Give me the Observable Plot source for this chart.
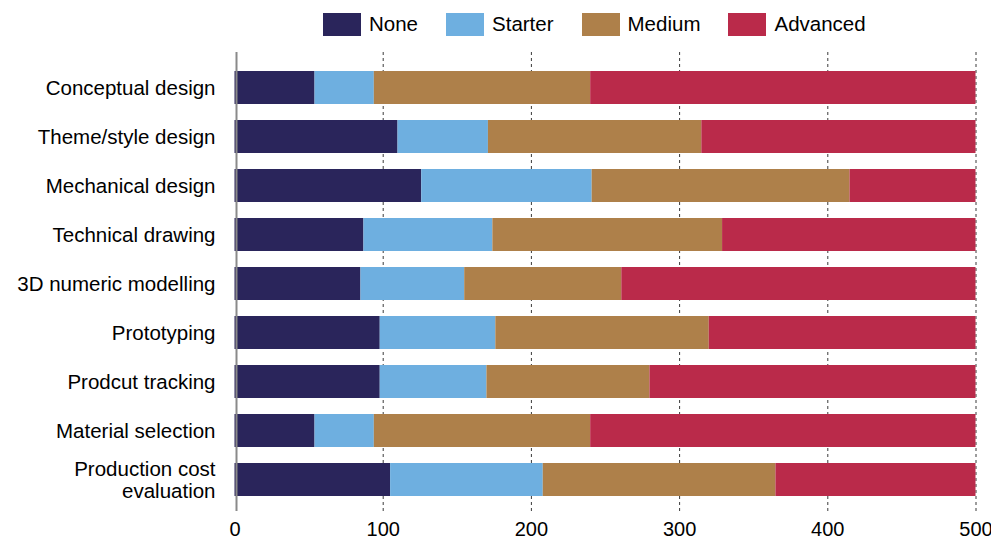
<!DOCTYPE html>
<html>
<head>
<meta charset="utf-8">
<script src="https://cdn.jsdelivr.net/npm/d3@7"></script>
<script src="https://cdn.jsdelivr.net/npm/@observablehq/plot@0.6"></script>
<style>
  html, body { margin: 0; padding: 0; background: #ffffff; }
  body { width: 991px; height: 539px; overflow: hidden; font-family: Arial, "Liberation Sans", sans-serif; }
  #legend { height: 48px; display: flex; align-items: center; padding-left: 323px; box-sizing: border-box; }
  .item { display: flex; align-items: center; margin-right: 28px; font-size: 20.5px; color: #000; }
  .swatch { width: 38px; height: 23px; margin-right: 8px; }
  #chart svg { display: block; overflow: visible; }
</style>
</head>
<body>
<div id="legend"></div>
<div id="chart"></div>
<script>
// Skill level reported for each design task (respondents, total 500 per task)
const tasks = [
  "Conceptual design",
  "Theme/style design",
  "Mechanical design",
  "Technical drawing",
  "3D numeric modelling",
  "Prototyping",
  "Prodcut tracking",
  "Material selection",
  "Production cost evaluation"
];
const levels = ["None", "Starter", "Medium", "Advanced"];
const levelColors = ["#2a255b", "#6eafe0", "#ae804a", "#ba2a4a"];

const none     = [54, 110, 126, 87, 85, 98, 98, 54, 105];
const starter  = [40, 61, 115, 87, 70, 78, 72, 40, 103];
const medium   = [146, 144, 174, 155, 106, 144, 110, 146, 157];
const advanced = [260, 185, 85, 171, 239, 180, 220, 260, 135];

const xTicks = [0, 100, 200, 300, 400, 500];

const series = [none, starter, medium, advanced];
const rows = [];
tasks.forEach((task, i) => {
  levels.forEach((level, j) => {
    rows.push({task, level, value: series[j][i]});
  });
});

// Legend row above the chart
const legend = document.getElementById("legend");
levels.forEach((level, j) => {
  const item = document.createElement("div");
  item.className = "item";
  const sw = document.createElement("div");
  sw.className = "swatch";
  sw.style.background = levelColors[j];
  const label = document.createElement("span");
  label.textContent = level;
  item.appendChild(sw);
  item.appendChild(label);
  legend.appendChild(item);
});

const labelText = (t) => t === "Production cost evaluation" ? "Production cost\nevaluation" : t;

const chart = Plot.plot({
  width: 991,
  height: 491,
  marginTop: 4,
  marginBottom: 28,
  marginLeft: 234.5,
  marginRight: 15.5,
  style: {fontFamily: "Arial, 'Liberation Sans', sans-serif", fontSize: "20px", color: "#000", background: "transparent"},
  x: {domain: [0, 500], ticks: xTicks, label: null},
  y: {domain: tasks, padding: 0.333, paddingOuter: 0.35, align: 0.55, label: null},
  color: {domain: levels, range: levelColors},
  marks: [
    Plot.ruleX(xTicks.filter(d => d > 0), {stroke: "#3a3a3a", strokeWidth: 1, strokeDasharray: "3,3"}),
    Plot.barX(rows, Plot.stackX({x: "value", y: "task", fill: "level", order: levels})),
    Plot.ruleX([0], {stroke: "#8a8a8a", strokeWidth: 2, dx: 1.5}),
    Plot.axisX({ticks: xTicks, tickSize: 0, tickPadding: 10, fontSize: 20, label: null}),
    Plot.axisY({tickSize: 0, tickPadding: 19.5, fontSize: 20.5, lineHeight: 1.05, tickFormat: labelText, label: null})
  ]
});
document.getElementById("chart").appendChild(chart);
</script>
</body>
</html>
